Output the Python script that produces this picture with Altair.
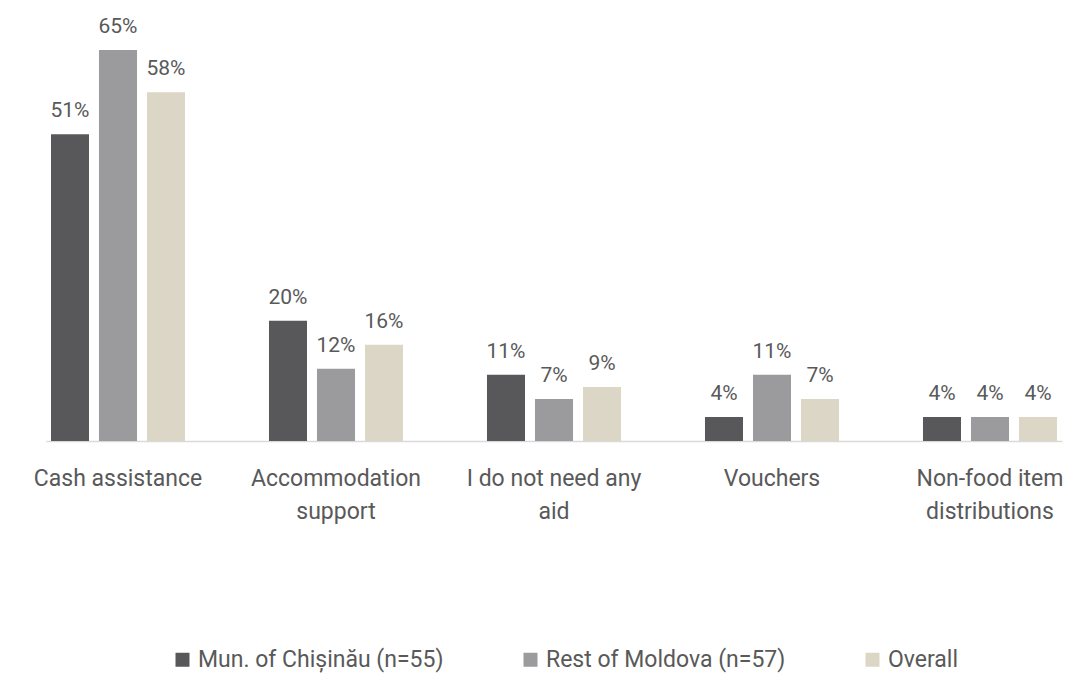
import altair as alt
import pandas as pd

categories = ["Cash assistance", "Accommodation support", "I do not need any aid", "Vouchers", "Non-food item distributions"]
series = ["Mun. of Chișinău (n=55)", "Rest of Moldova (n=57)", "Overall"]
chisinau = [51, 20, 11, 4, 4]
rest = [65, 12, 7, 11, 4]
overall = [58, 16, 9, 7, 4]
colors = ["#58585A", "#9B9B9D", "#DCD6C7"]

rows = []
for vals, s in zip([chisinau, rest, overall], series):
    for c, v in zip(categories, vals):
        rows.append({"category": c, "series": s, "value": v / 100})
df = pd.DataFrame(rows)

FONT = "Roboto"
TXT = "#595959"

label_expr = (
    "datum.label == 'Accommodation support' ? ['Accommodation', 'support'] : "
    "datum.label == 'I do not need any aid' ? ['I do not need any', 'aid'] : "
    "datum.label == 'Non-food item distributions' ? ['Non-food item', 'distributions'] : datum.label"
)

x = alt.X("category:N", sort=categories, title=None,
          scale=alt.Scale(paddingInner=0.3394, paddingOuter=0, range=[36, 1052]),
          axis=alt.Axis(labelAngle=0, labelFont=FONT, labelFontSize=23, labelColor=TXT,
                        labelPadding=26, labelLineHeight=33, ticks=False,
                        domainColor="#D9D9D9", domainWidth=1.5, labelExpr=label_expr,
                        labelBaseline="top"))
xoff = alt.XOffset("series:N", sort=series,
                   scale=alt.Scale(paddingInner=0.208, paddingOuter=0.104))
y = alt.Y("value:Q", scale=alt.Scale(domain=[0, 0.72]), axis=None)

base = alt.Chart(df).encode(x=x, xOffset=xoff, y=y)

bars = base.mark_bar().encode(
    color=alt.Color("series:N", sort=series,
                    scale=alt.Scale(domain=series, range=colors),
                    legend=alt.Legend(title=None, orient="none", direction="horizontal",
                                      legendX=161, legendY=640, symbolType="square",
                                      symbolSize=196, symbolStrokeWidth=0,
                                      labelFont=FONT, labelFontSize=23, labelColor=TXT,
                                      columnPadding=75, labelOffset=4, padding=0,
                                      labelLimit=400))
)
labels = base.mark_text(baseline="alphabetic", dy=-17, font=FONT, fontSize=21, color=TXT).encode(
    text=alt.Text("value:Q", format=".0%")
)

chart = alt.layer(bars, labels).properties(
    width=1073, height=433,
    autosize=alt.AutoSizeParams(type="none"),
    padding={"left": 2, "top": 0, "right": 0, "bottom": 234},
).configure_view(stroke=None)

chart.save("out.html", embed_options={"renderer": "svg", "actions": False})
